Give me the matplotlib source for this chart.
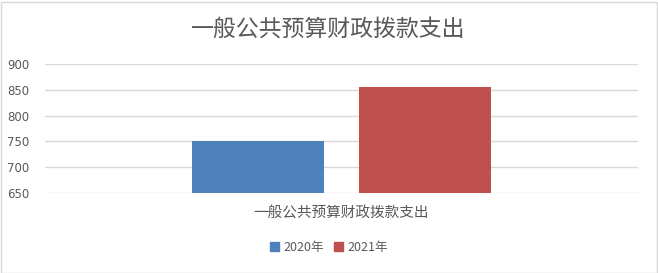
import matplotlib.pyplot as plt
from matplotlib.patches import Rectangle, Patch

plt.rcParams['font.family'] = ['Noto Sans CJK SC', 'DejaVu Sans']

category = '一般公共预算财政拨款支出'
series = ['2020年', '2021年']
values = [750, 855]
colors = ['#4f81bd', '#c0504d']
yticks = [650, 700, 750, 800, 850, 900]

fig = plt.figure(figsize=(6.58, 2.73), dpi=100)
ax = fig.add_axes([45 / 658, 1 - 193 / 273, (638 - 45) / 658, (193 - 64) / 273])

offsets = [-0.141, 0.141]
for off, v, c in zip(offsets, values, colors):
    ax.bar(off, v - yticks[0], bottom=yticks[0], width=0.222, color=c, zorder=2)

ax.set_xlim(-0.5, 0.5)
ax.set_ylim(yticks[0], yticks[-1])
ax.set_yticks(yticks)
ax.set_yticklabels([str(t) for t in yticks], fontsize=8.5, color='#595959',
                   family='DejaVu Sans')
ax.set_xticks([0])
ax.set_xticklabels([category], fontsize=10.5, color='#595959')
ax.tick_params(axis='both', length=0)
ax.tick_params(axis='y', pad=11)
ax.tick_params(axis='x', pad=10)
ax.grid(axis='y', color='#d9d9d9', linewidth=1, zorder=0)
for s in ax.spines.values():
    s.set_visible(False)

fig.text(328.5 / 658, 1 - 29 / 273, category, ha='center', va='center',
         fontsize=16.5, color='#595959')

handles = [Patch(color=c) for c in colors]
fig.legend(handles, series, loc='center', bbox_to_anchor=(0.5, 1 - 247 / 273),
           ncol=2, frameon=False, fontsize=9, handlelength=0.7, handleheight=0.7,
           handletextpad=0.4, columnspacing=0.8, labelcolor='#595959')

fig.patches.append(Rectangle((0.5 / 658, 0.5 / 273), 656 / 658, 271 / 273,
                             transform=fig.transFigure, fill=False,
                             edgecolor='#d9d9d9', linewidth=1))

fig.savefig('out.png', dpi=100, facecolor='white')
